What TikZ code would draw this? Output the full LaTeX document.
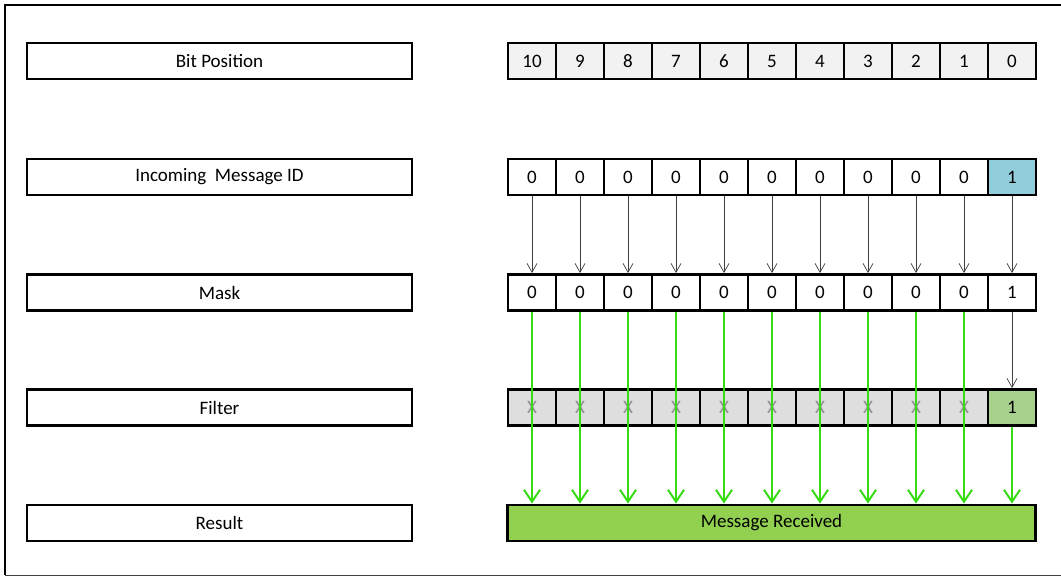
\documentclass[tikz,border=0pt]{standalone}
\usepackage{fontspec}
\setmainfont{Carlito}
\usetikzlibrary{arrows.meta}
\definecolor{bitgray}{HTML}{F2F2F2}
\definecolor{filtgray}{HTML}{DEDEDE}
\definecolor{idblue}{HTML}{92CDDC}
\definecolor{passgreen}{HTML}{A9D18E}
\definecolor{okgreen}{HTML}{92D050}
\definecolor{arrowgreen}{HTML}{33DD11}
\tikzset{
  label box/.style={draw, line width=2.8pt, minimum width=385pt, minimum height=36pt, inner sep=0pt},
  cell/.style={draw, line width=2.8pt, minimum width=48pt, minimum height=36pt, inner sep=0pt},
  thin arrow/.style={draw=black!75, line width=0.7pt, -{Straight Barb[length=9pt,width=10pt]}},
  green arrow/.style={draw=arrowgreen, line width=2pt, -{Straight Barb[length=12pt,width=16pt,line width=2pt]}}
}
\begin{document}
\begin{tikzpicture}[x=1pt,y=-1pt,font=\fontsize{19}{22}\selectfont]
    \useasboundingbox (0,0) rectangle (1061,577);
    \clip (0,0) rectangle (1061,577);
    \draw[line width=2pt] (1070,5) -- (5,5) -- (5,575);
    \draw[black!75, line width=1pt] (5,575) -- (1070,575);
    % left column
    \node[label box] (bitpos) at (219.5,61) {Bit Position};
    \node[label box] (incoming) at (219.5,177) {Incoming\ \ Message ID};
    \node[label box] (mask) at (219.5,292.5) {Mask};
    \node[label box] (filter) at (219.5,407.5) {Filter};
    \node[label box] (result) at (219.5,523) {Result};
    % bit cells
    \foreach \i in {0,...,10} {
        \pgfmathtruncatemacro{\bit}{10-\i}
        \node[cell, fill=bitgray] (b\i) at (532+48*\i,61) {\bit};
    }
    \foreach \i in {0,...,9} {
        \node[cell] (in\i) at (532+48*\i,177) {0};
        \node[cell] (m\i) at (532+48*\i,292.5) {0};
        \node[cell, fill=filtgray, text=black!45] (f\i) at (532+48*\i,407.5) {X};
    }
    \node[cell, fill=idblue] (in10) at (1012,177) {1};
    \node[cell] (m10) at (1012,292.5) {1};
    \node[cell, fill=passgreen] (f10) at (1012,407.5) {1};
    \node[draw, line width=2.8pt, fill=okgreen, minimum width=528pt, minimum height=36pt, inner sep=0pt] (msg) at (771.5,523) {Message Received};
    % arrows
    \foreach \i in {0,...,10}
        \draw[thin arrow] (in\i.south) -- (m\i.north);
    \draw[thin arrow] (m10.south) -- (f10.north);
    \foreach \i in {0,...,9}
        \draw[green arrow] (m\i.south) -- (m\i.south |- msg.north);
    \draw[green arrow] (f10.south) -- (f10.south |- msg.north);
\end{tikzpicture}
\end{document}
